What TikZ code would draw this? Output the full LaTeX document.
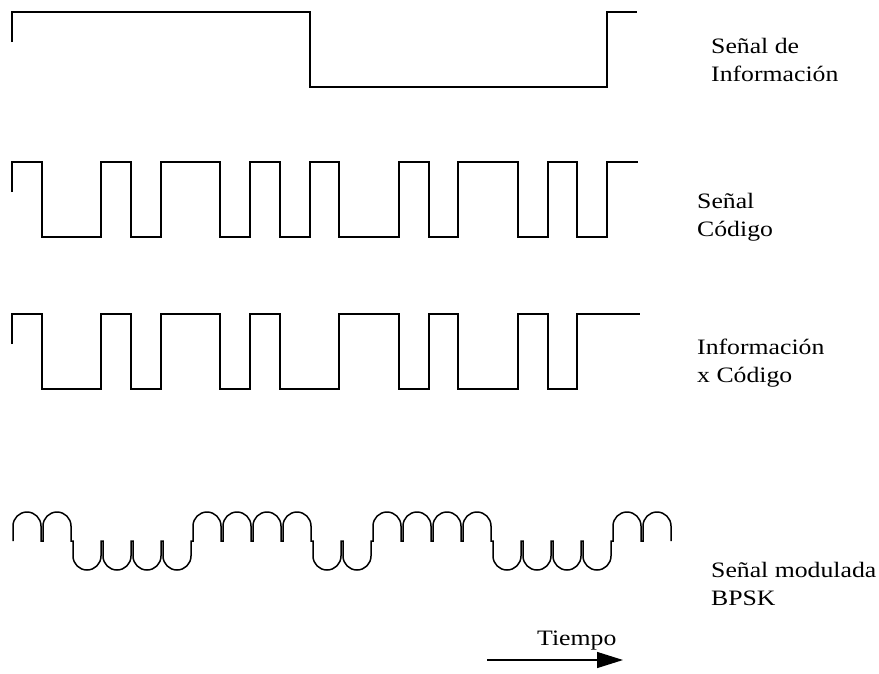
\documentclass[tikz,border=0pt]{standalone}
\usepackage{fontspec}
\setmainfont{Liberation Serif}[FakeStretch=1.17]
\usetikzlibrary{arrows.meta,positioning}

\tikzset{
  sig/.style={black, line width=1.5pt},
  lbl/.style={anchor=base west, inner sep=0pt, font=\fontsize{22}{28}\selectfont},
}

\begin{document}
\begin{tikzpicture}[x=1pt, y=-1pt]
 \useasboundingbox (0,0) rectangle (879,673);

 % informacion
 \draw[sig] (12,42) -- (12,12) -- (310,12) -- (310,87) -- (607,87) -- (607,12) -- (637,12);
 \node[lbl] (info) at (711,53) {Señal de};
 \node[lbl] (info2) at ([yshift=-28pt]info.base west) {Información};

 % codigo
 \draw[sig] (12,192) -- (12,162) -- (42,162) -- (42,237) -- (101,237) -- (101,162) -- (131,162) -- (131,237)
   -- (161,237) -- (161,162) -- (220,162) -- (220,237) -- (250,237) -- (250,162) -- (280,162) -- (280,237)
   -- (310,237) -- (310,162) -- (339,162) -- (339,237) -- (399,237) -- (399,162) -- (429,162) -- (429,237)
   -- (458,237) -- (458,162) -- (518,162) -- (518,237) -- (548,237) -- (548,162) -- (577,162) -- (577,237)
   -- (607,237) -- (607,162) -- (638,162);
 \node[lbl] (cod) at (697,208) {Señal};
 \node[lbl] (cod2) at ([yshift=-28pt]cod.base west) {Código};

 % informacion x codigo
 \draw[sig] (12,344) -- (12,314) -- (42,314) -- (42,389) -- (101,389) -- (101,314) -- (131,314) -- (131,389)
   -- (161,389) -- (161,314) -- (220,314) -- (220,389) -- (250,389) -- (250,314) -- (280,314) -- (280,389)
   -- (339,389) -- (339,314) -- (399,314) -- (399,389) -- (429,389) -- (429,314) -- (458,314) -- (458,389)
   -- (518,389) -- (518,314) -- (548,314) -- (548,389) -- (577,389) -- (577,314) -- (640,314);
 \node[lbl] (prod) at (697,354) {Información};
 \node[lbl] (prod2) at ([yshift=-28pt]prod.base west) {x Código};

 % BPSK
 \draw[sig] (13,541)
   -- ++(0,-15) arc (180:360:14) -- ++(0,15) -- ++(2,0) -- ++(0,-15) arc (180:360:14) -- ++(0,15) -- ++(2,0)
   -- ++(0,15) arc (180:0:14) -- ++(0,-15) -- ++(2,0) -- ++(0,15) arc (180:0:14) -- ++(0,-15) -- ++(2,0)
   -- ++(0,15) arc (180:0:14) -- ++(0,-15) -- ++(2,0) -- ++(0,15) arc (180:0:14) -- ++(0,-15) -- ++(2,0)
   -- ++(0,-15) arc (180:360:14) -- ++(0,15) -- ++(2,0) -- ++(0,-15) arc (180:360:14) -- ++(0,15) -- ++(2,0)
   -- ++(0,-15) arc (180:360:14) -- ++(0,15) -- ++(2,0) -- ++(0,-15) arc (180:360:14) -- ++(0,15) -- ++(2,0)
   -- ++(0,15) arc (180:0:14) -- ++(0,-15) -- ++(2,0) -- ++(0,15) arc (180:0:14) -- ++(0,-15) -- ++(2,0)
   -- ++(0,-15) arc (180:360:14) -- ++(0,15) -- ++(2,0) -- ++(0,-15) arc (180:360:14) -- ++(0,15) -- ++(2,0)
   -- ++(0,-15) arc (180:360:14) -- ++(0,15) -- ++(2,0) -- ++(0,-15) arc (180:360:14) -- ++(0,15) -- ++(2,0)
   -- ++(0,15) arc (180:0:14) -- ++(0,-15) -- ++(2,0) -- ++(0,15) arc (180:0:14) -- ++(0,-15) -- ++(2,0)
   -- ++(0,15) arc (180:0:14) -- ++(0,-15) -- ++(2,0) -- ++(0,15) arc (180:0:14) -- ++(0,-15) -- ++(2,0)
   -- ++(0,-15) arc (180:360:14) -- ++(0,15) -- ++(2,0) -- ++(0,-15) arc (180:360:14) -- ++(0,15);
 \node[lbl] (mod) at (711,577) {Señal modulada};
 \node[lbl] (mod2) at ([yshift=-28pt]mod.base west) {BPSK};

 % tiempo
 \node[lbl] (tiempo) at (537,645) {Tiempo};
 \coordinate (t0) at (487,660);
 \coordinate (t1) at (623,660);
 \draw[line width=1.3pt, -{Triangle[length=26pt,width=16pt]}] (t0) -- (t1);
\end{tikzpicture}
\end{document}
